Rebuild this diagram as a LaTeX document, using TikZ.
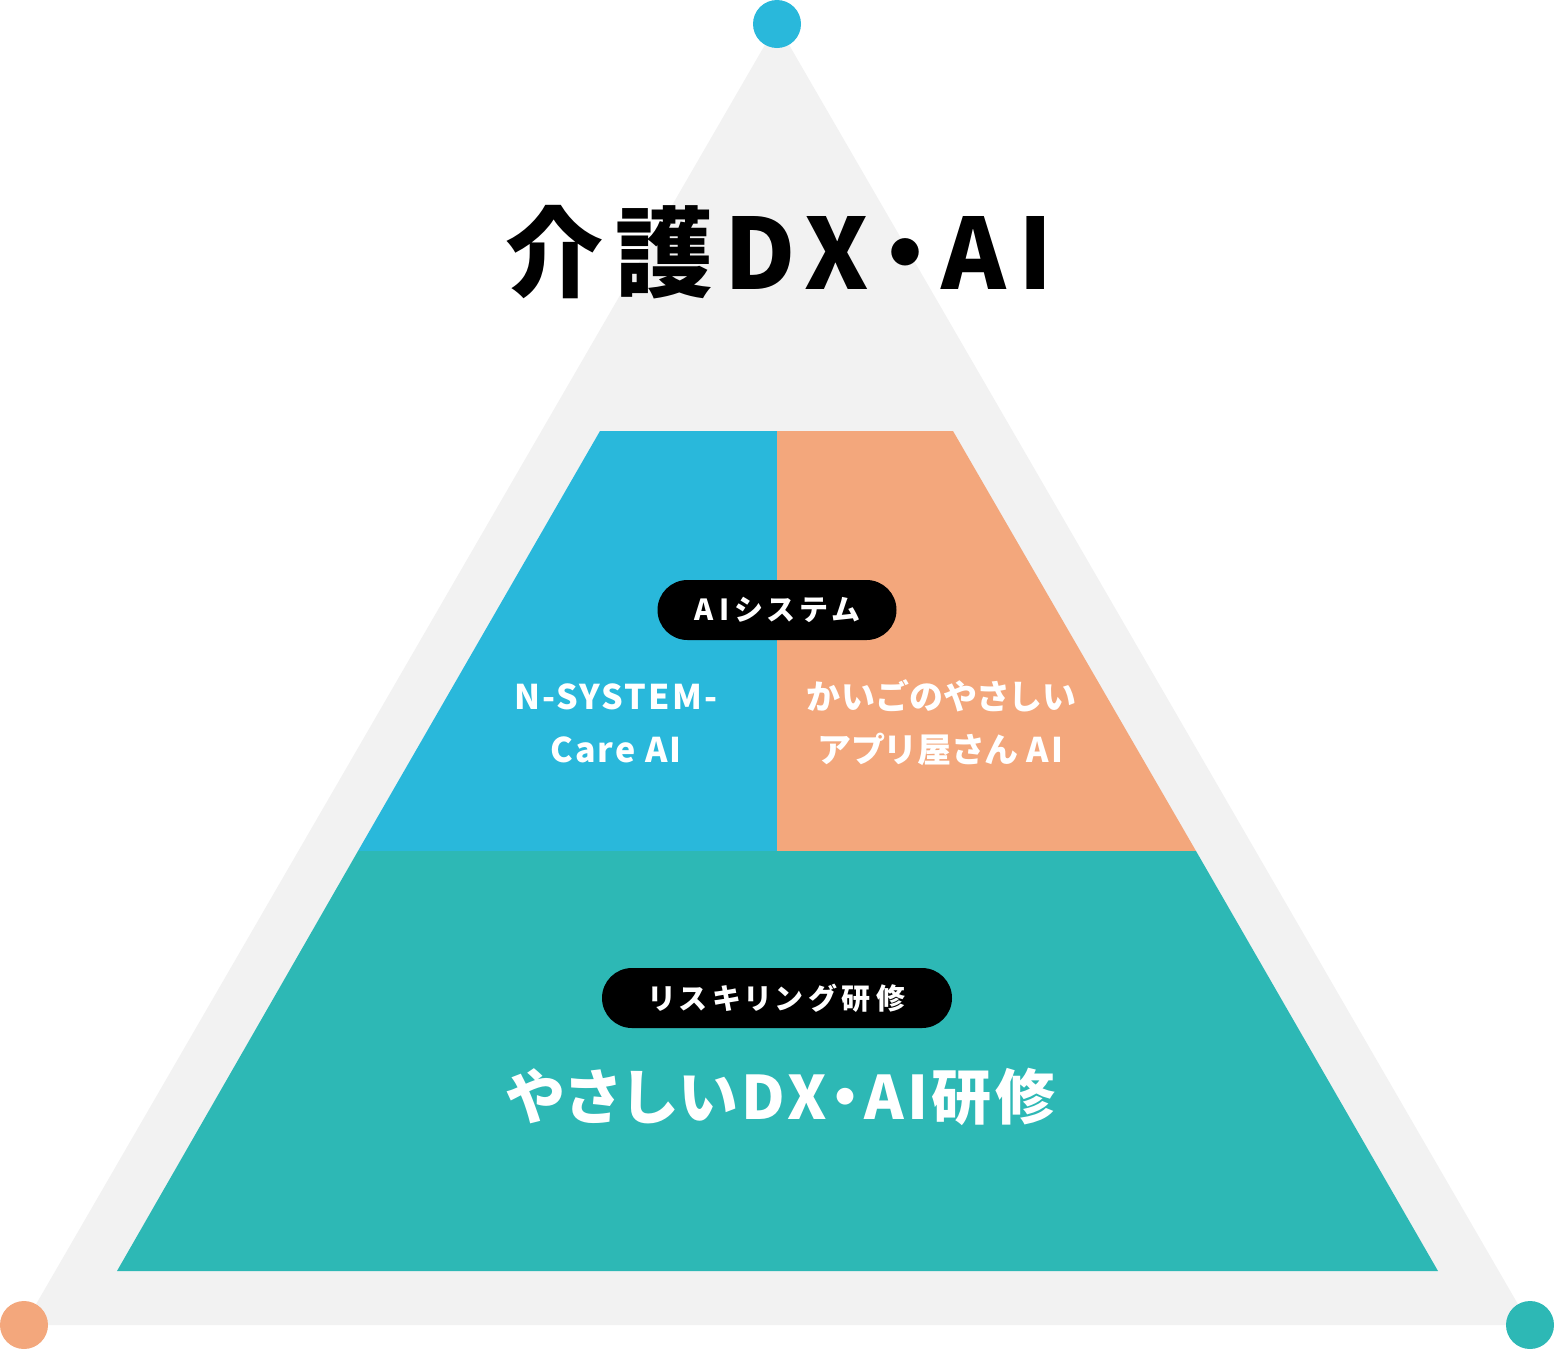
\documentclass[tikz,border=0pt]{standalone}
\usepackage{fontspec}
\newfontfamily\jpfont{Noto Sans CJK JP}[RawFeature={+palt}]
\definecolor{pyrgray}{HTML}{F2F2F2}
\definecolor{pyrblue}{HTML}{29B8DB}
\definecolor{pyrorange}{HTML}{F3A77C}
\definecolor{pyrteal}{HTML}{2DB8B5}
\tikzset{
  pill/.style={fill=black, text=white, rounded corners=30pt, minimum height=60pt, inner sep=0pt,
    font=\jpfont\bfseries\fontsize{29}{34}\selectfont\addfontfeature{LetterSpace=20}},
  boxtext/.style={text=white, align=center,
    font=\jpfont\bfseries\fontsize{34}{53}\selectfont\addfontfeature{LetterSpace=6}},
  dot/.style={circle, minimum size=48pt, inner sep=0pt}
}
\begin{document}
\begin{tikzpicture}[x=1pt,y=-1pt]
\useasboundingbox (0,0) rectangle (1555,1350);
\fill[pyrgray] (777,24) -- (1530,1325) -- (24,1325) -- cycle;
\fill[pyrblue] (600,431) -- (777,431) -- (777,851) -- (358,851) -- cycle;
\fill[pyrorange] (777,431) -- (953,431) -- (1196,851) -- (777,851) -- cycle;
\fill[pyrteal] (358,851) -- (1196,851) -- (1438,1271) -- (117,1271) -- cycle;
\node[dot, fill=pyrblue] (top) at (777,24) {};
\node[dot, fill=pyrorange] (left) at (24,1325) {};
\node[dot, fill=pyrteal] (right) at (1530,1325) {};
\node[font=\jpfont\bfseries\fontsize{98}{110}\selectfont\addfontfeature{LetterSpace=12}] (title) at (779,252)
  {介護DX・AI};
\node[pill, minimum width=239pt] (sys) at (777,610) {AIシステム};
\node[boxtext] (nsys) at (616,723) {N-SYSTEM-\\Care AI};
\node[boxtext] (kaigo) at (941,723) {かいごのやさしい\\アプリ屋さん AI};
\node[pill, minimum width=350pt] (reskill) at (777,998) {リスキリング研修};
\node[text=white, font=\jpfont\bfseries\fontsize{60}{70}\selectfont\addfontfeature{LetterSpace=6}] (course) at (781,1097)
  {やさしいDX・AI研修};
\end{tikzpicture}
\end{document}
